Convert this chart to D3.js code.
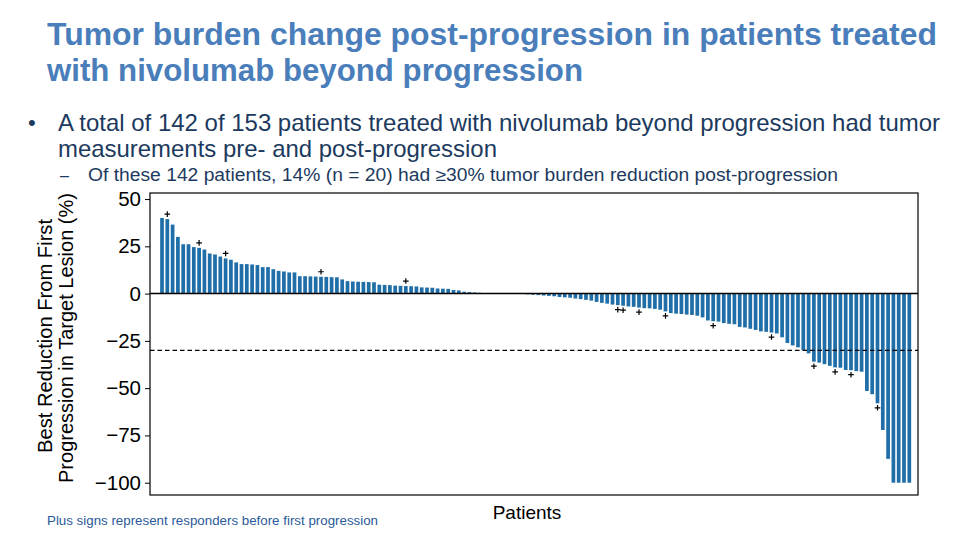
<!DOCTYPE html>
<html><head><meta charset="utf-8">
<script src="https://cdn.jsdelivr.net/npm/d3@7"></script>
<style>body{margin:0;background:#fff;} svg{display:block;}</style>
</head><body>
<svg id="c" width="959" height="539"></svg>
<script>
// ---- Data ----
const increaseValues = [40.0, 39.4, 36.5, 30.0, 26.1, 26.1, 24.6, 24.2, 23.3, 21.2,
  20.7, 19.6, 18.6, 17.9, 16.5, 15.6, 15.6, 15.4, 15.1, 14.0,
  14.0, 12.9, 12.0, 11.7, 11.2, 11.2, 9.2, 9.2, 9.1, 9.0,
  8.9, 8.8, 8.7, 8.6, 7.5, 6.6, 6.4, 6.3, 6.2, 6.1,
  6.0, 4.7, 4.6, 4.5, 4.2, 4.1, 4.0, 3.9, 3.8, 3.3,
  3.2, 3.1, 2.7, 2.6, 2.5, 1.9, 1.7, 1.0, 0.8, 0.6, 0.4];
const noChangeValues = [0, 0, 0, 0, 0, 0, 0, 0];
const decreaseValues = [-0.4, -0.6, -0.8, -1.0, -1.2, -1.4, -1.8, -2.0, -2.2, -2.6,
  -2.9, -3.3, -3.7, -4.4, -4.9, -5.3, -5.8, -6.1, -6.4, -6.8,
  -7.0, -7.4, -7.7, -7.8, -8.1, -8.5, -9.4, -10.3, -10.6, -10.8,
  -11.1, -11.3, -11.7, -12.6, -14.2, -14.6, -14.8, -15.6, -16.0, -16.2,
  -17.6, -17.9, -18.6, -19.2, -20.0, -20.2, -20.6, -21.1, -23.1, -26.1,
  -27.4, -28.4, -29.8, -31.6, -36.0, -36.5, -37.3, -38.2, -39.0, -39.2,
  -40.4, -40.5, -41.0, -41.3, -51.5, -53.2, -58.0, -72.1, -87.4, -100,
  -100, -100, -100];
const responderIndex = [1, 7, 12, 30, 46, 86, 87, 90, 95, 104, 115, 123, 127, 130, 135];
const yTickValues = [50, 25, 0, -25, -50, -75, -100];
const responseThreshold = -30;

const titleLines = ["Tumor burden change post-progression in patients treated",
                    "with nivolumab beyond progression"];
const bulletLines = ["A total of 142 of 153 patients treated with nivolumab beyond progression had tumor",
                     "measurements pre- and post-progression"];
const subBullet = "Of these 142 patients, 14% (n = 20) had \u226530% tumor burden reduction post-progression";
const yLabelLines = ["Best Reduction From First", "Progression in Target Lesion (%)"];
const xLabel = "Patients";
const footnote = "Plus signs represent responders before first progression";

const values = increaseValues.concat(noChangeValues, decreaseValues);
const data = values.map((v, i) => ({i, v, resp: responderIndex.includes(i)}));

// ---- Layout ----
const svg = d3.select("#c");
const font = "'Liberation Sans', Arial, sans-serif";
const plot = {l: 150, r: 918, t: 193, b: 495};

const x = d3.scaleBand().domain(d3.range(values.length))
  .range([154.85, 916.45]).paddingInner(0.3).paddingOuter(1);
const y = d3.scaleLinear().domain([-106.5, 53.2]).range([plot.b, plot.t]);

// Title
const tc = "#4a7ebb";
[[titleLines[0], 45, 890], [titleLines[1], 81, 536]].forEach(([t, yy, w]) => {
  svg.append("text").attr("x", 47).attr("y", yy).text(t)
    .attr("font-family", font).attr("font-weight", "bold").attr("font-size", 32)
    .attr("fill", tc).attr("textLength", w).attr("lengthAdjust", "spacingAndGlyphs");
});
// Bullets
const bc = "#1c3a5e";
svg.append("text").attr("x", 28).attr("y", 130).text("\u2022")
  .attr("font-family", font).attr("font-size", 22).attr("fill", bc);
[[bulletLines[0], 131, 882], [bulletLines[1], 157, 439]].forEach(([t, yy, w]) => {
  svg.append("text").attr("x", 58).attr("y", yy).text(t)
    .attr("font-family", font).attr("font-size", 24).attr("fill", bc)
    .attr("textLength", w).attr("lengthAdjust", "spacingAndGlyphs");
});
svg.append("text").attr("x", 60).attr("y", 181).text("\u2013")
  .attr("font-family", font).attr("font-size", 16).attr("fill", bc);
svg.append("text").attr("x", 88).attr("y", 181).text(subBullet)
  .attr("font-family", font).attr("font-size", 17.5).attr("fill", bc)
  .attr("textLength", 750).attr("lengthAdjust", "spacingAndGlyphs");

// Bars
const barColor = "#1f6ea8";
svg.append("g").selectAll("rect").data(data).join("rect")
  .attr("x", d => x(d.i)).attr("width", x.bandwidth())
  .attr("y", d => y(Math.max(0, d.v)))
  .attr("height", d => Math.abs(y(d.v) - y(0)))
  .attr("fill", barColor);

// Zero line
svg.append("line").attr("x1", plot.l).attr("x2", plot.r)
  .attr("y1", y(0)).attr("y2", y(0)).attr("stroke", "#000").attr("stroke-width", 1.5);
// Threshold dashed line
svg.append("line").attr("x1", plot.l).attr("x2", plot.r)
  .attr("y1", y(responseThreshold)).attr("y2", y(responseThreshold))
  .attr("stroke", "#000").attr("stroke-width", 1.2).attr("stroke-dasharray", "4.5,3");

// Plus markers
svg.append("g").selectAll("path").data(data.filter(d => d.resp)).join("path")
  .attr("transform", d => `translate(${x(d.i) + x.bandwidth() / 2},${y(d.v) + (d.v >= 0 ? -5 : 4.5)})`)
  .attr("d", "M-2.8,0H2.8M0,-2.8V2.8")
  .attr("stroke", "#000").attr("stroke-width", 1.2).attr("fill", "none");

// Frame
svg.append("rect").attr("x", plot.l).attr("y", plot.t)
  .attr("width", plot.r - plot.l).attr("height", plot.b - plot.t)
  .attr("fill", "none").attr("stroke", "#000").attr("stroke-width", 1.2);

// Y axis
const yAxis = svg.append("g").attr("transform", `translate(${plot.l},0)`)
  .call(d3.axisLeft(y).tickValues(yTickValues).tickSize(5).tickPadding(4));
yAxis.select(".domain").remove();
yAxis.selectAll("text").attr("font-family", font).attr("font-size", 20.5).attr("fill", "#000");
yAxis.selectAll("line").attr("stroke", "#000");

// Axis labels
[[yLabelLines[0], 52, 336, 234], [yLabelLines[1], 73, 338, 290]].forEach(([t, xx, yy, w]) => {
  svg.append("text").attr("transform", `translate(${xx},${yy}) rotate(-90)`)
    .attr("text-anchor", "middle").text(t)
    .attr("font-family", font).attr("font-size", 19.5).attr("fill", "#000")
    .attr("textLength", w).attr("lengthAdjust", "spacingAndGlyphs");
});
svg.append("text").attr("x", (plot.l + plot.r) / 2 - 7).attr("y", 519)
  .attr("text-anchor", "middle").text(xLabel)
  .attr("font-family", font).attr("font-size", 19).attr("fill", "#000");

// Footnote
svg.append("text").attr("x", 47).attr("y", 525).text(footnote)
  .attr("font-family", font).attr("font-size", 12).attr("fill", "#2a5a9a")
  .attr("textLength", 331).attr("lengthAdjust", "spacingAndGlyphs");
</script>
</body></html>
